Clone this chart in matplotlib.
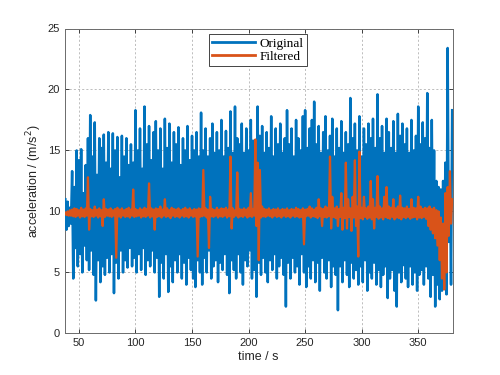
import numpy as np
import matplotlib
matplotlib.use("Agg")
import matplotlib.pyplot as plt

# ---- data ----
# Original signal: local maxima at even seconds (38..380), minima at odd seconds (39..379)
orig_hi_t = list(range(38, 381, 2))
orig_hi = [
    11.0, 10.8, 10.3, 13.3, 12.0, 15.0, 14.2, 15.1, 11.5, 13.8,
    16.0, 17.9, 14.5, 17.3, 13.0, 16.0, 15.2, 16.3, 14.0, 16.5,
    13.5, 16.4, 15.0, 16.1, 12.8, 16.2, 14.5, 16.0, 13.8, 15.5,
    14.0, 18.3, 15.0, 16.8, 13.5, 18.6, 15.5, 17.0, 14.2, 16.5,
    17.4, 15.0, 16.8, 13.5, 17.6, 15.2, 17.2, 14.0, 16.5, 15.5,
    16.9, 13.8, 16.0, 15.0, 17.0, 14.2, 16.2, 15.0, 16.5, 14.5,
    18.1, 15.0, 16.8, 14.5, 16.0, 17.2, 14.8, 16.5, 15.0, 17.5,
    14.5, 16.6, 15.2, 18.2, 14.8, 18.6, 16.0, 15.5, 17.2, 14.8,
    16.8, 15.0, 17.5, 15.8, 14.5, 18.6, 16.2, 17.0, 14.8, 16.5,
    15.2, 17.8, 14.5, 16.8, 15.5, 17.2, 14.8, 16.0, 18.3, 15.5,
    16.8, 14.5, 17.5, 16.0, 15.0, 17.8, 18.3, 15.2, 16.8, 17.5,
    19.0, 15.5, 17.0, 14.8, 16.5, 17.8, 15.0, 16.2, 17.6, 14.5,
    16.8, 15.2, 17.4, 14.8, 16.5, 15.5, 19.3, 16.0, 17.2, 15.0,
    17.8, 14.5, 16.8, 15.5, 17.2, 16.0, 17.6, 15.2, 19.6, 16.0,
    17.0, 14.8, 17.6, 16.5, 15.2, 17.4, 14.8, 18.0, 16.2, 17.2,
    15.5, 16.8, 14.8, 17.5, 15.0, 16.2, 18.6, 15.5, 17.3, 16.0,
    19.7, 15.2, 17.5, 15.0, 12.5, 12.0, 11.8, 12.5, 14.0, 23.4,
    13.0, 18.3,
]
orig_lo_t = list(range(39, 380, 2))
orig_lo = [
    8.5, 8.8, 9.0, 4.5, 7.0, 5.5, 6.5, 5.0, 7.2, 6.0,
    5.2, 6.8, 4.8, 2.7, 6.0, 4.2, 5.5, 4.8, 6.2, 5.0,
    6.5, 3.3, 5.8, 4.5, 6.8, 5.0, 6.0, 5.4, 7.0, 5.5,
    6.2, 5.0, 6.5, 5.2, 7.0, 4.8, 6.0, 5.5, 6.8, 5.0,
    6.2, 3.0, 5.8, 4.5, 6.5, 3.4, 5.5, 4.2, 6.0, 5.0,
    6.5, 4.5, 5.8, 4.0, 6.2, 5.2, 4.5, 3.8, 6.0, 5.0,
    4.0, 6.2, 5.0, 6.8, 4.5, 5.5, 6.0, 4.2, 5.8, 5.2,
    6.5, 4.8, 3.3, 6.0, 5.2, 4.5, 6.5, 5.0, 4.0, 6.0,
    5.5, 6.8, 4.5, 5.2, 3.0, 5.8, 4.8, 6.2, 5.0, 4.2,
    6.0, 5.2, 6.5, 4.5, 5.5, 6.2, 4.8, 2.2, 5.8, 4.5,
    6.2, 5.0, 5.5, 4.0, 6.5, 5.0, 3.8, 5.5, 4.5, 6.0,
    4.2, 5.8, 3.5, 6.2, 5.0, 4.5, 6.0, 3.8, 5.5, 4.8,
    1.9, 5.5, 4.2, 6.0, 4.8, 3.8, 5.8, 4.5, 5.2, 4.0,
    5.5, 4.2, 6.0, 3.5, 5.0, 4.5, 5.8, 4.0, 5.2, 3.8,
    4.8, 5.5, 2.9, 4.5, 5.2, 3.5, 2.2, 5.0, 4.2, 5.6,
    4.5, 3.8, 5.5, 4.0, 5.0, 3.5, 4.8, 5.2, 4.0, 5.5,
    4.5, 3.0, 4.8, 2.2, 4.0, 2.8, 3.5, 5.0, 3.2, 7.5,
    4.0,
]

# Filtered signal: maxima at even seconds, minima at odd seconds
filt_hi = [
    9.9, 10.0, 10.1, 10.15, 10.25, 10.2, 10.1, 10.3, 10.15, 10.25,
    12.8, 10.2, 10.1, 10.4, 10.15, 10.25, 10.1, 11.0, 10.2, 10.15,
    10.25, 10.1, 10.2, 10.3, 10.15, 10.25, 10.1, 10.2, 10.3, 10.15,
    11.8, 10.2, 10.1, 10.25, 10.15, 10.3, 10.2, 12.3, 10.25, 10.15,
    10.25, 10.2, 10.4, 10.15, 11.0, 10.25, 10.1, 10.3, 10.2, 10.15,
    10.25, 10.1, 10.2, 10.3, 10.15, 10.25, 10.1, 10.2, 10.15, 10.25,
    10.2, 13.4, 10.25, 10.15, 11.2, 10.2, 10.1, 10.3, 10.15, 10.25,
    10.2, 10.3, 10.15, 14.5, 10.25, 10.1, 13.2, 10.2, 10.15, 10.25,
    10.15, 10.3, 11.5, 10.2, 15.9, 14.0, 13.4, 10.4, 10.2, 10.15,
    10.25, 10.1, 10.2, 10.15, 10.25, 10.1, 10.2, 10.15, 10.25, 10.1,
    10.2, 10.15, 10.3, 10.2, 10.1, 10.25, 10.15, 10.2, 10.4, 10.25,
    10.15, 10.3, 11.0, 10.25, 10.2, 10.4, 10.3, 14.5, 11.2, 10.25,
    10.4, 10.2, 11.5, 10.3, 14.0, 11.0, 10.25, 11.2, 14.2, 10.4,
    14.9, 10.3, 11.2, 10.25, 10.4, 12.5, 11.0, 10.3, 12.9, 10.4,
    10.25, 11.2, 12.0, 10.4, 10.3, 11.0, 10.25, 10.4, 11.3, 10.3,
    10.25, 10.4, 10.2, 11.0, 10.3, 10.25, 11.2, 10.4, 10.2, 10.3,
    10.25, 10.4, 10.2, 10.3, 10.1, 10.0, 9.5, 9.0, 11.5, 12.0,
    13.3, 11.0,
]
filt_lo = [
    9.7, 9.65, 9.65, 9.6, 9.55, 9.65, 9.5, 9.6, 9.55, 9.65,
    8.5, 9.6, 9.55, 9.65, 9.5, 9.6, 8.8, 9.55, 9.65, 9.6,
    9.55, 9.65, 6.2, 9.6, 9.5, 9.65, 9.55, 9.6, 9.5, 9.65,
    9.55, 9.6, 9.65, 9.5, 9.6, 9.55, 9.65, 9.5, 9.6, 8.5,
    9.55, 9.6, 9.5, 9.65, 9.55, 9.6, 9.45, 9.65, 9.55, 9.6,
    9.5, 9.65, 9.55, 9.6, 9.5, 9.65, 9.55, 9.6, 6.3, 9.55,
    9.6, 9.65, 9.5, 7.0, 9.6, 9.55, 9.65, 9.5, 9.6, 9.55,
    9.65, 9.5, 9.6, 8.6, 9.55, 9.65, 9.5, 9.6, 9.55, 9.65,
    9.5, 9.6, 9.55, 9.65, 8.8, 6.0, 9.5, 9.6, 9.55, 9.65,
    9.6, 9.5, 9.65, 9.55, 9.6, 9.5, 9.65, 9.55, 9.6, 9.5,
    9.65, 9.55, 9.6, 9.5, 9.55, 7.3, 9.6, 9.65, 9.5, 9.6,
    9.55, 9.45, 9.6, 8.8, 9.55, 9.5, 9.6, 8.6, 9.55, 9.45,
    8.8, 9.55, 8.5, 9.45, 8.6, 9.55, 8.4, 9.5, 8.8, 6.3,
    9.45, 9.35, 9.55, 9.4, 9.5, 9.35, 8.6, 9.55, 9.4, 9.5,
    9.35, 9.55, 9.45, 9.4, 9.55, 9.35, 9.5, 9.45, 9.35, 9.55,
    9.45, 9.55, 9.4, 9.5, 9.55, 9.35, 9.5, 9.45, 9.55, 9.4,
    8.8, 8.5, 8.2, 7.8, 7.2, 6.0, 4.5, 3.6, 5.0, 8.0,
    9.0,
]

xticks = [50, 100, 150, 200, 250, 300, 350]
yticks = [0, 5, 10, 15, 20, 25]


def interleave(t_hi, v_hi, t_lo, v_lo):
    t = np.concatenate([t_hi, t_lo]).astype(float)
    v = np.concatenate([v_hi, v_lo]).astype(float)
    order = np.argsort(t, kind="stable")
    return t[order], v[order]


t_o, v_o = interleave(orig_hi_t, orig_hi, orig_lo_t, orig_lo)
t_f, v_f = interleave(orig_hi_t, filt_hi, orig_lo_t, filt_lo)

plt.rcParams["font.family"] = ["Liberation Sans", "DejaVu Sans"]

fig = plt.figure(figsize=(5.0, 3.75), dpi=100)
ax = fig.add_axes([0.13, 0.111, 0.775, 0.813])

ax.plot(t_o, v_o, color="#0072BD", lw=1.8, label="Original", zorder=3)
ax.plot(t_f, v_f, color="#D95319", lw=1.6, label="Filtered", zorder=4)

ax.set_xlim(37.7, 380.3)
ax.set_ylim(0, 25)
ax.set_xticks(xticks)
ax.set_yticks(yticks)
ax.tick_params(direction="in", length=3, width=0.6, labelsize=8,
               colors="#262626", top=True, right=True)
ax.grid(True, linestyle=(0, (2.5, 2.5)), color="#a0a0a0", lw=0.6, alpha=0.8)
ax.set_axisbelow(True)
for s in ax.spines.values():
    s.set_color("#6b6b6b")
    s.set_linewidth(0.7)

ax.set_xlabel("time / s", fontsize=9, color="#262626", labelpad=2)
ax.set_ylabel("acceleration / (m/s$^2$)", fontsize=9, color="#262626", labelpad=3)

leg = ax.legend(loc="upper center", bbox_to_anchor=(0.497, 0.982),
                prop={"family": ["Liberation Serif"], "size": 9.5},
                frameon=True, fancybox=False, framealpha=1,
                edgecolor="#262626", borderpad=0.25, handlelength=3.3,
                handletextpad=0.3, labelspacing=0.1, borderaxespad=0)
leg.get_frame().set_linewidth(0.6)
for line in leg.get_lines():
    line.set_linewidth(2.0)

fig.savefig("out.png", dpi=100)
